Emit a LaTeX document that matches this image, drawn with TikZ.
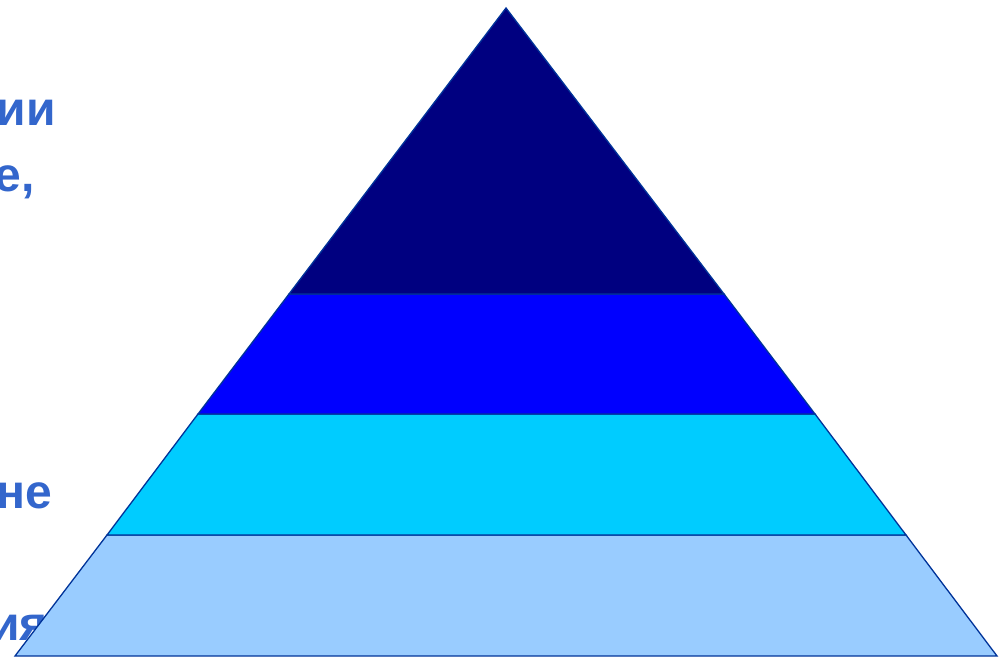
\documentclass[tikz,border=0pt]{standalone}
\usepackage{fontspec}
\setsansfont{Liberation Sans}
\usepackage{tikz}
\usetikzlibrary{positioning}

\definecolor{textblue}{HTML}{3366CC}
\definecolor{edgeblue}{HTML}{003399}
\definecolor{tiernavy}{HTML}{000080}
\definecolor{tierblue}{HTML}{0000FF}
\definecolor{tiercyan}{HTML}{00CCFF}
\definecolor{tiersky}{HTML}{99CCFF}

\begin{document}
\begin{tikzpicture}[
  x=1pt, y=-1pt,
  every node/.style = {font=\sffamily\bfseries\fontsize{48}{58}\selectfont},
  cut/.style  = {text=textblue, inner sep=0pt, anchor=base east},
  tier/.style = {draw=edgeblue, line width=1.3pt, line join=miter, fill=#1},
]
\useasboundingbox (0,0) rectangle (1008,658);

%% ══ TEXT cut off at the left edge ══════════════════════════════════════
\node[cut] (lineA) at (56,125) {ии};
\node[cut] (lineB) at (35,191) {е,};
\node[cut] (lineC) at (52,508) {не};
\node[cut] (lineD) at (48,640) {ия};

%% ══ PYRAMID ═══════════════════════════════════════════════════════════
\coordinate (apex) at (506,8);
\coordinate (l1) at (289,294);  \coordinate (r1) at (724,294);
\coordinate (l2) at (198,414);  \coordinate (r2) at (815,414);
\coordinate (l3) at (107,535);  \coordinate (r3) at (906,535);
\coordinate (l4) at (15,656);   \coordinate (r4) at (997,656);

%% ── bottom to top ─────────────────────────────────────────────────────
\draw[tier=tiersky]  (l3) -- (r3) -- (r4) -- (l4) -- cycle;
\draw[tier=tiercyan] (l2) -- (r2) -- (r3) -- (l3) -- cycle;
\draw[tier=tierblue] (l1) -- (r1) -- (r2) -- (l2) -- cycle;
\draw[tier=tiernavy] (apex) -- (r1) -- (l1) -- cycle;

\end{tikzpicture}
\end{document}
